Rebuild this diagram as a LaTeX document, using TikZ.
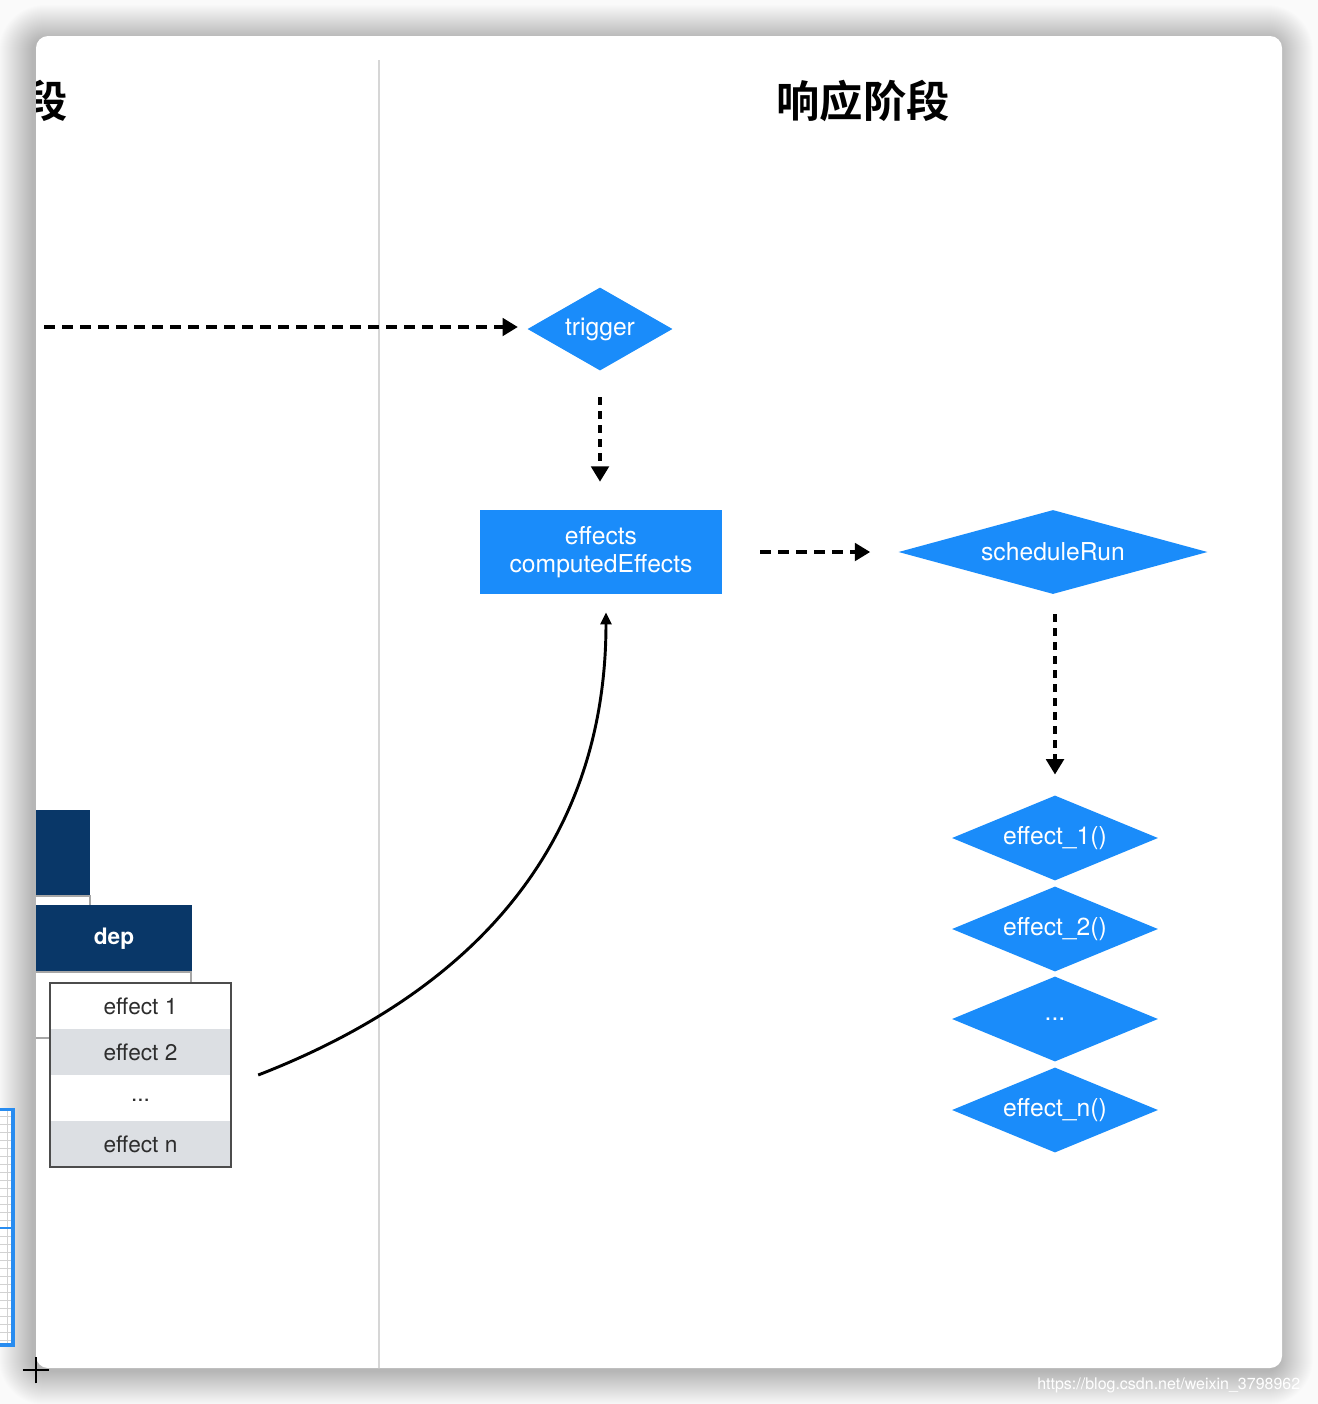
\documentclass[tikz,border=0pt]{standalone}
\usepackage{fontspec}
\setmainfont{TeX Gyre Heros}
\newfontfamily\cjk{Noto Sans CJK SC}[BoldFont={Noto Sans CJK SC Bold}]
\usetikzlibrary{arrows.meta,shapes.geometric,fit}
\definecolor{blueA}{RGB}{26,140,250}
\definecolor{navy}{RGB}{9,55,104}
\definecolor{rowgray}{RGB}{220,223,227}
\definecolor{divider}{RGB}{214,214,214}
\definecolor{txtdark}{RGB}{45,45,45}
\definecolor{gridblue}{RGB}{40,140,240}
\tikzset{
  bluediamond/.style={diamond, fill=blueA, inner sep=0pt, text=white,
    font=\fontsize{18.5}{22}\selectfont},
  bluebox/.style={rectangle, fill=blueA, inner sep=0pt, text=white, align=center,
    font=\fontsize{18.5}{21}\selectfont},
  darr/.style={line width=3pt, dash pattern=on 8pt off 5.5pt,
    -{Triangle[length=11.5pt,width=13pt]}},
  vdarr/.style={darr, dash pattern=on 6pt off 4.5pt},
  navyhdr/.style={rectangle, fill=navy, inner sep=0pt, text=white,
    font=\fontsize{17}{20}\selectfont\bfseries},
  row/.style={rectangle, inner sep=0pt, minimum width=135.75pt, minimum height=34.5pt,
    text=txtdark, font=\fontsize{17}{20}\selectfont},
}
\begin{document}
\begin{tikzpicture}[x=0.75pt,y=-0.75pt]
\useasboundingbox (0,0) rectangle (1318,1404);
\fill[white!98!black] (0,0) rectangle (1318,1404);
% soft shadow around the card
\foreach \i in {1,...,34}{
  \pgfmathsetmacro{\rc}{(9+\i*0.75)}
  \fill[black, opacity=0.006, rounded corners=\rc pt]
    (36-\i-3,36-\i+3) rectangle (1282+\i-3,1368+\i+3);
}
\fill[white, rounded corners=9pt] (36,36) rectangle (1282,1368);
% blue grid strip outside the card
\begin{scope}
\clip (0,1108) rectangle (16,1347);
\fill[white] (0,1108) rectangle (14,1346);
\foreach \yy in {1116,1124,...,1340} \draw[gray!35, line width=0.5pt] (0,\yy) -- (14,\yy);
\draw[gray!35, line width=0.5pt] (7,1108) -- (7,1346);
\draw[gridblue, line width=1.5pt] (-10,1228) -- (14,1228);
\draw[gridblue, line width=2.5pt] (-10,1109) rectangle (13,1345);
\end{scope}
% crosshair
\coordinate (ch) at (36,1370);
\draw[black, line width=1.2pt] ([xshift=-10pt]ch) -- ([xshift=10pt]ch);
\draw[black, line width=1.2pt] ([yshift=-10pt]ch) -- ([yshift=10pt]ch);
% watermark
\node[anchor=west, text=white, font=\fontsize{12}{14}\selectfont, inner sep=0pt] (wm)
  at (1037,1385) {https://blog.csdn.net/weixin\_3798962};
\begin{scope}
\clip[rounded corners=9pt] (36,36) rectangle (1282,1368);
% divider
\draw[divider, line width=2.2pt] (379,60) -- (379,1380);
% titles
\node[font=\fontsize{32.5}{36}\selectfont\cjk\bfseries, inner sep=0pt] (lefttitle) at (46,101) {段};
\node[font=\fontsize{32.5}{36}\selectfont\cjk\bfseries, inner sep=0pt] (title) at (863,101) {响应阶段};
% left stacked boxes
\node[navyhdr, minimum width=40.5pt, minimum height=64.5pt] (box1) at (63,853) {};
\draw[gray!70, fill=white, line width=1pt] (30,896) rectangle (90,960);
\node[navyhdr, minimum width=117pt, minimum height=50.25pt] (dep) at (114,938.5) {dep};
\draw[gray!70, fill=white, line width=1pt] (30,972) rectangle (191,1038);
\node[row, fill=white] (r1) at (140.5,1006) {effect 1};
\node[row, fill=rowgray] (r2) at (140.5,1052) {effect 2};
\node[row, fill=white] (r3) at (140.5,1100) {...};
\node[row, fill=rowgray] (r4) at (140.5,1144) {effect n};
\node[fit=(r1)(r4), inner sep=0pt, draw=black!70, line width=1.4pt] (efflist) {};
% right side flow
\coordinate (src) at (44,327);
\node[bluediamond, aspect=1.75, minimum width=108.75pt, minimum height=62.25pt] (trigger) at (600,329) {trigger};
\node[bluebox, minimum width=181.5pt, minimum height=63pt] (effects) at (601,552) {effects\\computedEffects};
\node[bluediamond, aspect=3.68, minimum width=231.75pt, minimum height=63pt] (sched) at (1053,552) {scheduleRun};
\node[bluediamond, aspect=2.42, minimum width=154.5pt, minimum height=63.75pt] (e1) at (1055,838) {effect\_1()};
\node[bluediamond, aspect=2.42, minimum width=154.5pt, minimum height=63.75pt] (e2) at (1055,929) {effect\_2()};
\node[bluediamond, aspect=2.42, minimum width=154.5pt, minimum height=63.75pt] (e3) at (1055,1019) {...};
\node[bluediamond, aspect=2.42, minimum width=154.5pt, minimum height=63.75pt] (en) at (1055,1110) {effect\_n()};
% connectors
\draw[darr, shorten >=7pt] (src) -- (src -| trigger.west);
\draw[vdarr, shorten <=20pt, shorten >=21pt] (trigger.south) -- (trigger.south |- effects.north);
\draw[darr, shorten <=28.5pt, shorten >=21pt] (effects.east) -- (sched.west);
\draw[vdarr, shorten <=15pt, shorten >=15.5pt] ([xshift=1.5pt]sched.south) -- ([xshift=1.5pt]sched.south |- e1.north);
\draw[line width=2.2pt, shorten >=13.5pt, -{Triangle[length=9pt,width=8pt]}]
  ([xshift=19.5pt]efflist.east) .. controls (490,985) and (606,830) .. ([xshift=3.75pt]effects.south);
\end{scope}
\end{tikzpicture}
\end{document}
